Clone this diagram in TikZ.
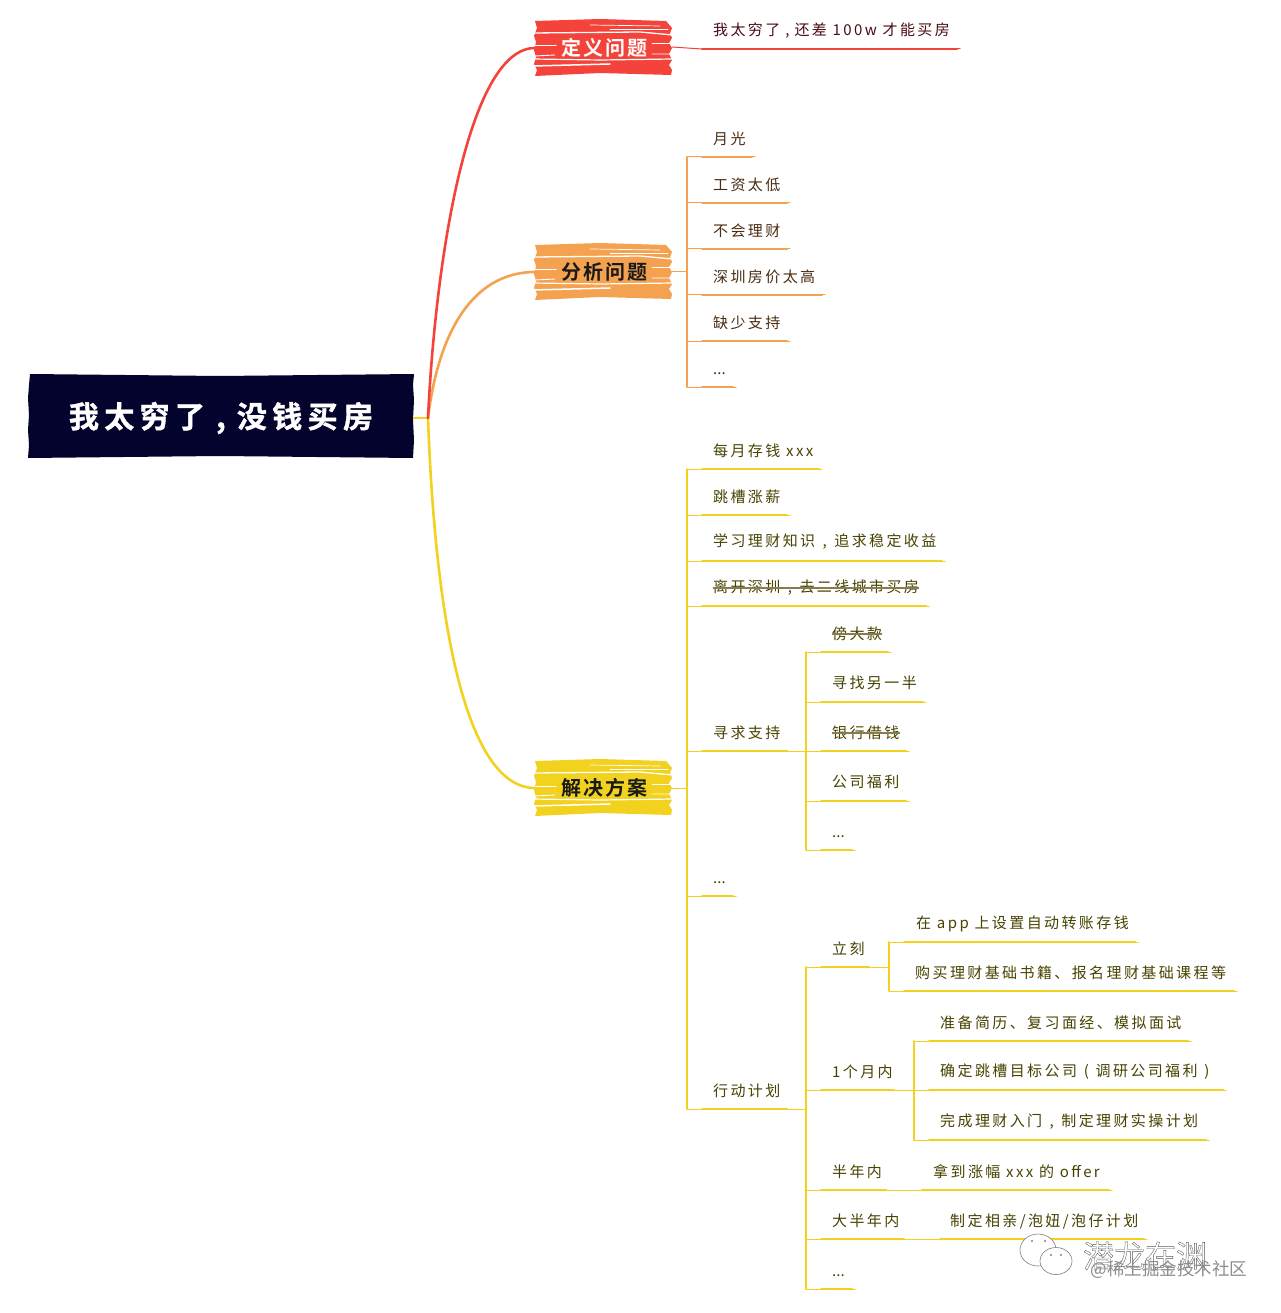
\documentclass[tikz,border=0pt]{standalone}
\usepackage{fontspec}
\setmainfont{Noto Sans CJK SC}
\newfontfamily\leaffont[LetterSpace=16]{Noto Sans CJK SC}
\newfontfamily\headfont[LetterSpace=10]{Noto Sans CJK SC Bold}
\newfontfamily\rootfont[LetterSpace=18,FakeBold=1.2]{Noto Sans CJK SC Bold}
\usetikzlibrary{calc}
\definecolor{cred}{HTML}{F4433A}
\definecolor{corange}{HTML}{F5A250}
\definecolor{cyellow}{HTML}{F2D21E}
\definecolor{croot}{HTML}{03032E}
\definecolor{tred}{HTML}{4A0C14}
\definecolor{torange}{HTML}{4A2C10}
\definecolor{tyellow}{HTML}{484300}
\tikzset{
  leaflabel/.style={anchor=west,inner sep=0pt,font=\leaffont\fontsize{15}{15}\selectfont},
  headlabel/.style={anchor=center,inner sep=0pt,font=\headfont\fontsize{20}{20}\selectfont},
  spine/.style={line width=1.7pt,line cap=round},
  thinline/.style={line width=1pt,line cap=round},
  thickline/.style={line width=2pt,line cap=round},
  maincurve/.style={line width=2.6pt,line cap=round},
  strike/.style={line width=1.1pt,draw=black!65!yellow!70!brown},
  streak/.style={white,line cap=round},
}
\newcommand{\cmm}{\hspace{7.5pt},\hspace{7.5pt}}
\newcommand{\threedots}{{\normalfont ...}}
% [thick start offset] id, text x, text y, line y, line start x, line end x, text
\newcommand{\leaf}[8][15]{%
  \node[leaflabel] (#2) at (#3,#4+1) {#8};
  \coordinate (#2-a) at (#6,#5);
  \coordinate (#2-b) at (#7,#5);
  \draw[thinline] (#2-a) -- (#2-b);
  \draw[thickline] ($(#6+#1,#5+0.4)$) -- ($(#7-3,#5+0.4)$);
}
% name, centre y, fill, text colour, text
\newcommand{\brush}[5]{%
  \begin{scope}[yshift=-#2pt]
    \fill[#3] (535,-27) -- (600,-29) -- (666,-27) -- (672,-20) -- (670,-15) -- (672,-10) -- (669,-5) -- (672,0)
      -- (669,6) -- (672,12) -- (669,17) -- (672,22) -- (671,27) -- (600,25) -- (535,28) -- (537,22) -- (534,16)
      -- (536,9) -- (534,2) -- (536,-6) -- (534,-12) -- (537,-20) -- cycle;
    \draw[streak,line width=0.7pt] (590,-23) -- (660,-22);
    \draw[streak,line width=0.6pt] (610,-19) -- (668,-19);
    \draw[streak,line width=1.3pt] (533,-15) -- (640,-16) -- (673,-13);
    \draw[streak,line width=1pt] (534,-2) -- (556,-2) (652,-4) -- (673,-4);
    \draw[streak,line width=0.9pt] (535,8) -- (555,7) (652,6) -- (671,6);
    \draw[streak,line width=1.2pt] (533,11) -- (600,12) -- (673,11);
    \draw[streak,line width=1.5pt] (533,18) -- (610,16);
    \node[headlabel,text=#4] (#1) at (604,0) {#5};
  \end{scope}
}
\begin{document}
\begin{tikzpicture}[x=1pt,y=-1pt]
\useasboundingbox (0,0) rectangle (1280,1313);
\fill[white] (0,0) rectangle (1280,1313);

% root
\fill[croot] (30,374) -- (220,376) -- (414,374) -- (413,385) -- (414,400) -- (413,420) -- (414,440) -- (413,458)
  -- (220,456) -- (28,458) -- (29,445) -- (28,430) -- (29,415) -- (28,398) -- (29,385) -- cycle;
\node[inner sep=0pt,text=white,font=\rootfont\fontsize{30}{30}\selectfont] (root) at (221,418) {我太穷了\hspace{11pt},\hspace{11pt}没钱买房};
\coordinate (rootr) at (414,418);
\coordinate (fork) at (428,418);

% boxes
\brush{define}{48}{cred}{white}{定义问题}
\brush{analyse}{272}{corange}{black!90}{分析问题}
\brush{solve}{788}{cyellow}{black!90}{解决方案}
\coordinate (defineL) at (535,48);
\coordinate (defineR) at (672,47);
\coordinate (analyseL) at (535,272);
\coordinate (analyseR) at (672,272);
\coordinate (solveL) at (535,788);
\coordinate (solveR) at (672,788);

% main curves
\draw[maincurve,cyellow] (rootr) -- (fork);
\draw[maincurve,cyellow] (fork) .. controls (436,640) and (470,788) .. (solveL);
\draw[maincurve,corange] (fork) .. controls (440,320) and (480,272) .. (analyseL);
\draw[maincurve,cred] (fork) .. controls (436,250) and (470,48) .. (defineL);

% red branch
\begin{scope}[draw=cred,text=tred]
\leaf[0]{r1}{713}{30}{49}{702}{960}{我太穷了\hspace{5pt},\hspace{5pt}还差 100w 才能买房}
\draw[thinline] (defineR) -- (r1-a);
\end{scope}

% orange branch
\begin{scope}[draw=corange,text=torange]
\leaf{o1}{713}{138}{157}{687}{755}{月光}
\leaf{o2}{713}{184}{203}{687}{790}{工资太低}
\leaf{o3}{713}{230}{249}{687}{790}{不会理财}
\leaf{o4}{713}{276}{295}{687}{825}{深圳房价太高}
\leaf{o5}{713}{322}{341}{687}{790}{缺少支持}
\leaf{o6}{713}{373}{387}{687}{736}{\threedots}
\draw[spine] (o1-a) -- (o6-a);
\coordinate (ojoin) at (687,272);
\draw[thinline] (analyseR) -- (ojoin);
\end{scope}

% yellow branch
\begin{scope}[draw=cyellow,text=tyellow]
\leaf{y1}{713}{450}{469}{687}{822}{每月存钱 xxx}
\leaf{y2}{713}{496}{515}{687}{790}{跳槽涨薪}
\leaf{y3}{713}{541}{561}{687}{945}{学习理财知识\cmm 追求稳定收益}
\leaf{y4}{713}{587}{606}{687}{929}{离开深圳\cmm 去二线城市买房}
\leaf{y5}{713}{732}{751}{687}{790}{寻求支持}
\leaf{y6}{713}{882}{896}{687}{736}{\threedots}
\leaf{y7}{713}{1090}{1109}{687}{790}{行动计划}
\draw[spine] (y1-a) -- (y7-a);
\coordinate (yjoin) at (687,788);
\draw[thinline] (solveR) -- (yjoin);

% seek support
\leaf{s1}{832}{633}{652}{806}{891}{傍大款}
\leaf{s2}{832}{682}{702}{806}{926}{寻找另一半}
\leaf{s3}{832}{732}{751}{806}{909}{银行借钱}
\leaf{s4}{832}{781}{801}{806}{909}{公司福利}
\leaf{s5}{832}{836}{850}{806}{855}{\threedots}
\draw[spine] (s1-a) -- (s5-a);
\draw[thinline] (y5-b) -- (s3-a);

% action plan
\leaf{p1}{832}{948}{967}{806}{872}{立刻}
\leaf{p2}{832}{1071}{1090}{806}{897}{1个月内}
\leaf{p3}{832}{1171}{1190}{806}{889}{半年内}
\leaf{p4}{832}{1220}{1239}{806}{907}{大半年内}
\leaf{p5}{832}{1275}{1289}{806}{855}{\threedots}
\draw[spine] (p1-a) -- (p5-a);
\coordinate (pjoin) at (806,1109);
\draw[thinline] (y7-b) -- (pjoin);

\leaf{a1}{916}{923}{942}{889}{1138}{在 app 上设置自动转账存钱}
\leaf{a2}{915}{972}{991}{889}{1237}{购买理财基础书籍、报名理财基础课程等}
\draw[spine] (a1-a) -- (a2-a);
\coordinate (ajoin) at (889,967);
\draw[thinline] (p1-b) -- (ajoin);
\leaf{b1}{940}{1022}{1041}{914}{1191}{准备简历、复习面经、模拟面试}
\leaf{b2}{940}{1071}{1090}{914}{1226}{确定跳槽目标公司\hspace{1pt} ( \hspace{1pt}调研公司福利\hspace{1pt} )}
\leaf{b3}{940}{1121}{1140}{914}{1209}{完成理财入门\cmm 制定理财实操计划}
\draw[spine] (b1-a) -- (b3-a);
\draw[thinline] (p2-b) -- (b2-a);
\leaf[0]{c1}{933}{1171}{1190}{922}{1112}{拿到涨幅 xxx 的 offer}
\draw[thinline] (p3-b) -- (c1-a);
\leaf[0]{d1}{950}{1220}{1239}{940}{1147}{制定相亲/泡妞/泡仔计划}
\draw[thinline] (p4-b) -- (d1-a);
\end{scope}

% struck-through labels
\draw[strike] (y4.west) -- (y4.east);
\draw[strike] (s1.west) -- (s1.east);
\draw[strike] (s3.west) -- (s3.east);

% watermark
\draw[black!50,fill=white,line width=0.6pt] (1038,1250) ellipse [x radius=18,y radius=16];
\draw[black!50,fill=white,line width=0.6pt] (1056,1261) ellipse [x radius=16,y radius=13.5];
\fill[black!50] (1032,1241) circle (1.2) (1045,1241) circle (1.2) (1051,1255) circle (1.2) (1061,1255) circle (1.2);
\node[inner sep=0pt,text=black!65,font=\fontsize{31}{31}\selectfont] (wm) at (1145,1256) {\special{pdf:code 1 Tr 0.35 w}潜龙在渊\special{pdf:code 0 Tr}};
\node[inner sep=0pt,text=black!45,font=\fontsize{17.5}{17.5}\selectfont] (wm2) at (1169,1270) {@稀土掘金技术社区};
\end{tikzpicture}
\end{document}
